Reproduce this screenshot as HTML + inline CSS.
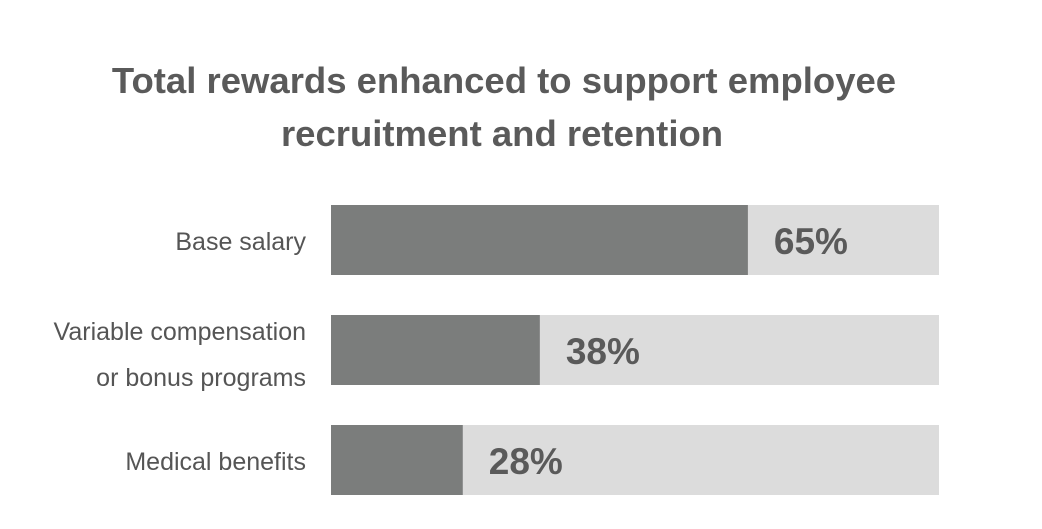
<!DOCTYPE html>
<html><head><meta charset="utf-8"><style>
body{margin:0;background:#fff;width:1042px;height:524px;overflow:hidden;font-family:"Liberation Sans",sans-serif}
</style></head><body>
<svg width="1042" height="524">
<text x="504" y="93" text-anchor="middle" font-size="36.5" font-weight="bold" fill="#5a5a5a">Total rewards enhanced to support employee</text>
<text x="502" y="146" text-anchor="middle" font-size="36.5" font-weight="bold" fill="#5a5a5a">recruitment and retention</text>
<g id="bars"></g>
</svg>
<script>
const categories=[["Base salary"],["Variable compensation","or bonus programs"],["Medical benefits"]];
const values=[65,38,28];
const labels=["65%","38%","28%"];
const domain=[10.9,89.8];
const x0=331,trackW=608;
function xs(v){return Math.max(0,(v-domain[0])/(domain[1]-domain[0])*trackW);}
const g=document.getElementById('bars');
const ns="http://www.w3.org/2000/svg";
values.forEach((v,i)=>{
  const y=205+i*110;
  const t=document.createElementNS(ns,'rect');
  t.setAttribute('x',x0);t.setAttribute('y',y);t.setAttribute('width',trackW);t.setAttribute('height',70);t.setAttribute('fill','#dcdcdc');
  
  
  g.appendChild(t);
  const b=document.createElementNS(ns,'rect');
  const w=xs(v);
  b.setAttribute('x',x0);b.setAttribute('y',y);b.setAttribute('width',w);b.setAttribute('height',70);b.setAttribute('fill','#7b7d7c');
  
  
  g.appendChild(b);
  const lt=document.createElementNS(ns,'text');
  lt.setAttribute('x',x0+w+26);lt.setAttribute('y',y+49);lt.setAttribute('font-size','37');lt.setAttribute('font-weight','bold');lt.setAttribute('fill','#5a5a5a');
  lt.textContent=labels[i];
  
  
  g.appendChild(lt);
  const lines=categories[i];
  lines.forEach((s,j)=>{
    const c=document.createElementNS(ns,'text');
    const cy=lines.length===1?y+45:y+25+j*46;
    c.setAttribute('x',306);c.setAttribute('y',cy);c.setAttribute('text-anchor','end');c.setAttribute('font-size','25');c.setAttribute('fill','#555');
    c.textContent=s;
    
    
    g.appendChild(c);
  });
});
</script>
</body></html>
